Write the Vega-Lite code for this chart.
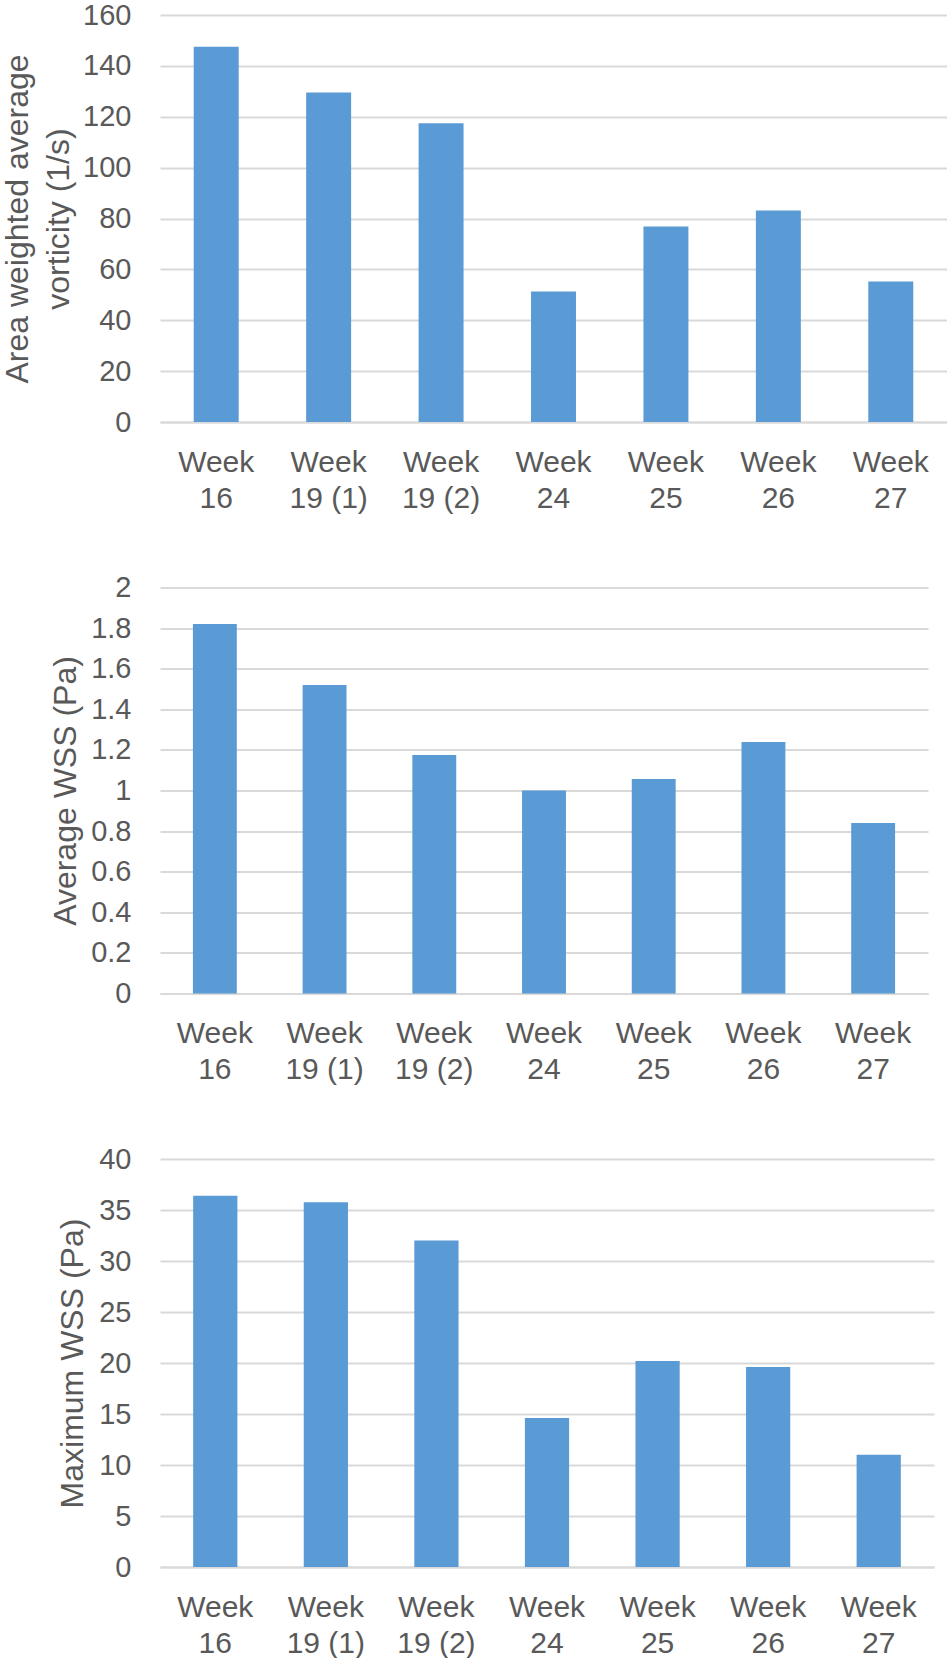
{
  "$schema": "https://vega.github.io/schema/vega-lite/v6.json",
  "padding": {"left": 0, "top": 1, "right": 0, "bottom": 0},
  "background": "white",
  "data": {
    "values": [
      {"week": "Week 16", "measure": "vorticity", "value": 147.5},
      {"week": "Week 19 (1)", "measure": "vorticity", "value": 129.5},
      {"week": "Week 19 (2)", "measure": "vorticity", "value": 117.4},
      {"week": "Week 24", "measure": "vorticity", "value": 51.3},
      {"week": "Week 25", "measure": "vorticity", "value": 76.9},
      {"week": "Week 26", "measure": "vorticity", "value": 83.1},
      {"week": "Week 27", "measure": "vorticity", "value": 55.2},
      {"week": "Week 16", "measure": "avg_wss", "value": 1.82},
      {"week": "Week 19 (1)", "measure": "avg_wss", "value": 1.52},
      {"week": "Week 19 (2)", "measure": "avg_wss", "value": 1.175},
      {"week": "Week 24", "measure": "avg_wss", "value": 1.0},
      {"week": "Week 25", "measure": "avg_wss", "value": 1.057},
      {"week": "Week 26", "measure": "avg_wss", "value": 1.239},
      {"week": "Week 27", "measure": "avg_wss", "value": 0.84},
      {"week": "Week 16", "measure": "max_wss", "value": 36.4},
      {"week": "Week 19 (1)", "measure": "max_wss", "value": 35.75},
      {"week": "Week 19 (2)", "measure": "max_wss", "value": 32.0},
      {"week": "Week 24", "measure": "max_wss", "value": 14.6},
      {"week": "Week 25", "measure": "max_wss", "value": 20.2},
      {"week": "Week 26", "measure": "max_wss", "value": 19.6},
      {"week": "Week 27", "measure": "max_wss", "value": 11.0}
    ]
  },
  "spacing": 60.5,
  "vconcat": [
    {
      "width": 787,
      "height": 407,
      "transform": [{"filter": "datum.measure === 'vorticity'"}],
      "mark": {"type": "bar", "color": "#5B9BD5"},
      "encoding": {
        "x": {
          "field": "week",
          "type": "nominal",
          "sort": null,
          "scale": {"paddingInner": 0.6, "paddingOuter": 0.3},
          "axis": {"title": null}
        },
        "y": {
          "field": "value",
          "type": "quantitative",
          "scale": {"domain": [0, 160], "nice": false},
          "axis": {
            "values": [0, 20, 40, 60, 80, 100, 120, 140, 160],
            "title": ["Area weighted average", "vorticity (1/s)"],
            "titleX": -133,
            "titleY": 203.5
          }
        }
      }
    },
    {
      "width": 768,
      "height": 406,
      "transform": [{"filter": "datum.measure === 'avg_wss'"}],
      "mark": {"type": "bar", "color": "#5B9BD5"},
      "encoding": {
        "x": {
          "field": "week",
          "type": "nominal",
          "sort": null,
          "scale": {"paddingInner": 0.6, "paddingOuter": 0.3},
          "axis": {"title": null}
        },
        "y": {
          "field": "value",
          "type": "quantitative",
          "scale": {"domain": [0, 2], "nice": false},
          "axis": {
            "values": [0, 0.2, 0.4, 0.6, 0.8, 1, 1.2, 1.4, 1.6, 1.8, 2],
            "format": "~g",
            "title": "Average WSS (Pa)",
            "titleX": -85,
            "titleY": 203
          }
        }
      }
    },
    {
      "width": 774,
      "height": 408,
      "transform": [{"filter": "datum.measure === 'max_wss'"}],
      "mark": {"type": "bar", "color": "#5B9BD5"},
      "encoding": {
        "x": {
          "field": "week",
          "type": "nominal",
          "sort": null,
          "scale": {"paddingInner": 0.6, "paddingOuter": 0.3},
          "axis": {"title": null}
        },
        "y": {
          "field": "value",
          "type": "quantitative",
          "scale": {"domain": [0, 40], "nice": false},
          "axis": {
            "values": [0, 5, 10, 15, 20, 25, 30, 35, 40],
            "title": "Maximum WSS (Pa)",
            "titleX": -78,
            "titleY": 204
          }
        }
      }
    }
  ],
  "config": {
    "view": {"stroke": null},
    "font": "Liberation Sans",
    "axis": {
      "labelFont": "Liberation Sans",
      "titleFont": "Liberation Sans",
      "labelColor": "#595959",
      "titleColor": "#595959",
      "titleFontWeight": "normal"
    },
    "axisX": {
      "domain": true,
      "domainColor": "#D9D9D9",
      "domainWidth": 2,
      "ticks": false,
      "tickSize": 0,
      "grid": false,
      "labelAngle": 0,
      "labelPadding": 25,
      "labelFontSize": 30,
      "labelLineHeight": 36,
      "labelOverlap": false,
      "labelExpr": "[substring(datum.label, 0, 4), substring(datum.label, 5)]"
    },
    "axisY": {
      "domain": false,
      "ticks": false,
      "tickSize": 0,
      "grid": true,
      "gridColor": "#D9D9D9",
      "gridWidth": 2,
      "labelPadding": 29,
      "labelFontSize": 29,
      "titleFontSize": 32,
      "titleLineHeight": 41,
      "titleAngle": -90,
      "titleAlign": "center",
      "titleBaseline": "alphabetic"
    }
  }
}
